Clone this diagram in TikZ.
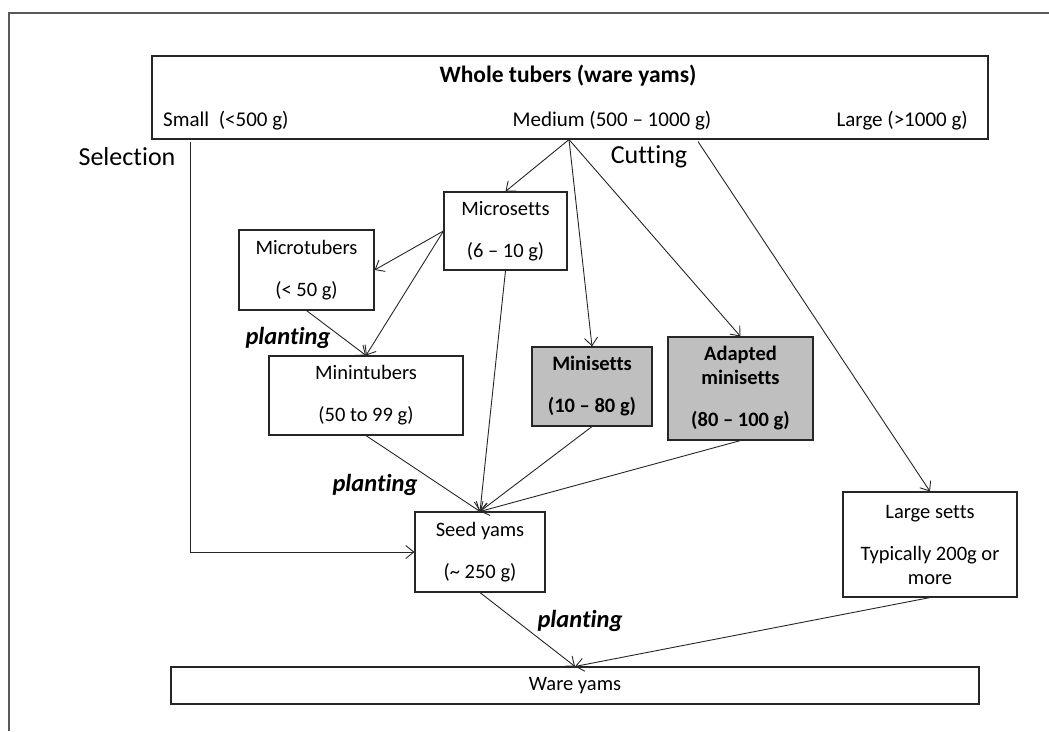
\documentclass[tikz,border=0pt]{standalone}
\usepackage{fontspec}
\setmainfont[Ligatures={NoCommon}]{Carlito}
\usetikzlibrary{arrows.meta,calc}
\begin{document}
\begin{tikzpicture}[x=1pt,y=-1pt,
  box/.style={draw=black!85,line width=1.1pt,inner sep=0pt,align=center,font=\fontsize{20.5}{24}\selectfont},
  gbox/.style={box,fill=black!25,font=\bfseries\fontsize{20.5}{24}\selectfont},
  arr/.style={draw=black!85,line width=0.9pt,-{Straight Barb[length=8pt,width=13pt]}},
  lbl/.style={inner sep=0pt,font=\bfseries\itshape\fontsize{24.5}{28}\selectfont},
  big/.style={inner sep=0pt,font=\fontsize{26}{30}\selectfont},
  txt/.style={inner sep=0pt,font=\fontsize{21}{24}\selectfont},
  frame/.style={draw=black!65,line width=1.2pt}
]
\useasboundingbox (0,0) rectangle (1049,731);
\draw[frame] (9,731) -- (9,13) -- (1049,13);

% top box
\node[box, minimum width=836pt, minimum height=83pt] (top) at (570,97.5) {};
\node[txt,font=\bfseries\fontsize{23.5}{26}\selectfont] (title) at (568,76) {Whole tubers (ware yams)};
\node[txt, anchor=west] (small) at (163,121) {Small\ \ (<500 g)};
\node[txt] (medium) at (612,121) {Medium (500 -- 1000 g)};
\node[txt, anchor=east] (large-lbl) at (968,121) {Large (>1000 g)};

\node[big] (sel) at (127,157) {Selection};
\node[big] (cut) at (649,157) {Cutting};

% boxes
\node[box, minimum width=123pt, minimum height=78pt] (micro) at (505.5,231) {Microsetts\\[18pt](6 -- 10 g)};
\node[box, minimum width=135pt, minimum height=80pt] (mtub) at (306.5,270) {Microtubers\\[18pt](< 50 g)};
\node[box, minimum width=194pt, minimum height=79pt] (mint) at (366,395.5) {Minintubers\\[18pt](50 to 99 g)};
\node[gbox, minimum width=120pt, minimum height=79pt] (mset) at (592,386.5) {Minisetts\\[18pt](10 -- 80 g)};
\node[gbox, minimum width=145pt, minimum height=103pt] (adap) at (740.5,388.5) {Adapted\\minisetts\\[18pt](80 -- 100 g)};
\node[box, minimum width=130pt, minimum height=80pt] (seed) at (480,552) {Seed yams\\[18pt](\textasciitilde{} 250 g)};
\node[box, minimum width=174pt, minimum height=105pt] (large) at (930,544.5) {Large setts\\[18pt]Typically 200g or\\more};
\node[box, minimum width=808pt, minimum height=37pt] (ware) at (575,685.5) {Ware yams};

% labels
\node[lbl] (p1) at (288,338) {planting};
\node[lbl] (p2) at (375,485) {planting};
\node[lbl] (p3) at (580,621) {planting};

% source points on the top box
\coordinate (msrc) at ($(top.south)+(-1,0)$);
\coordinate (lsrc) at ($(top.south)+(128,2)$);
\coordinate (ssrc) at ($(top.south)+(-380,2)$);

% connectors
\draw[arr] (msrc) -- (micro.north);
\draw[arr] (msrc) -- (mset.north);
\draw[arr] (msrc) -- (adap.north);
\draw[arr] (lsrc) -- (large.north);
\draw[arr] (ssrc) |- (seed.west);
\draw[arr] (micro.west) -- (mtub.east);
\draw[arr] (micro.west) -- (mint.north);
\draw[arr] (mtub.south) -- (mint.north);
\draw[arr] (micro.south) -- (seed.north);
\draw[arr] (mint.south) -- (seed.north);
\draw[arr] (mset.south) -- (seed.north);
\draw[arr] (adap.south) -- (seed.north);
\draw[arr] (seed.south) -- (ware.north);
\draw[arr] (large.south) -- (ware.north);
\end{tikzpicture}
\end{document}
